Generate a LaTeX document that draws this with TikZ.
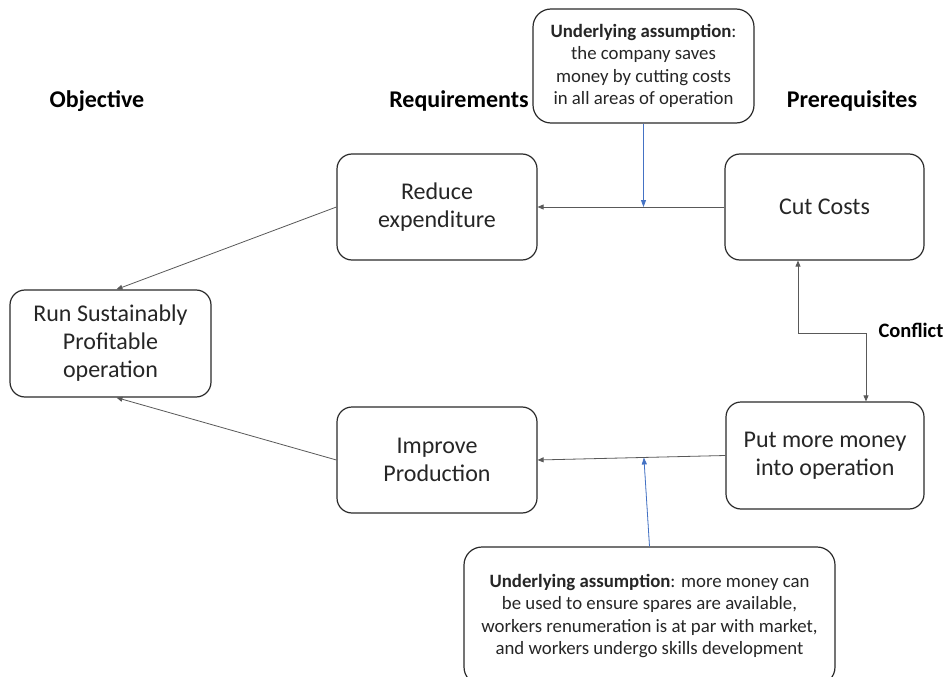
\documentclass[tikz,border=0pt]{standalone}
\usepackage{fontspec}
\setmainfont{Carlito}
\usetikzlibrary{arrows.meta}
\definecolor{linegray}{HTML}{595959}
\definecolor{boxedge}{HTML}{2B2B2B}
\definecolor{inktext}{HTML}{262626}
\definecolor{assumeblue}{HTML}{4472C4}
\tikzset{
  stepbox/.style={draw=boxedge, line width=1.2pt, rounded corners=15pt, align=center,
    inner sep=0pt, text=inktext, font=\fontsize{24}{28}\selectfont},
  notebox/.style={draw=boxedge, line width=1.2pt, rounded corners=18pt, align=center,
    inner sep=0pt, text=inktext, font=\fontsize{18.8}{22.5}\selectfont},
  heading/.style={text=black, font=\bfseries\fontsize{24}{28}\selectfont},
  tip/.style={-{Triangle[length=6pt,width=5pt]}},
  link/.style={draw=linegray, line width=0.8pt, tip},
  bluelink/.style={draw=assumeblue, line width=0.8pt, -{Triangle[length=7pt,width=5pt]}, fill=assumeblue},
}
\begin{document}
\begin{tikzpicture}[x=1pt, y=-1pt]
  \useasboundingbox (0,0) rectangle (946,677);
  \clip (0,0) rectangle (946,677);
  \fill[white] (0,0) rectangle (946,677);

  % column headings
  \node[heading] (hObj) at (97,101) {Objective};
  \node[heading] (hReq) at (459,101) {Requirements};
  \node[heading] (hPre) at (852,101) {Prerequisites};

  % main steps
  \node[stepbox, minimum width=201pt, minimum height=107pt] (run) at (110.5,343.5)
    {Run Sustainably\\Profitable\\operation};
  \node[stepbox, minimum width=200pt, minimum height=106pt] (reduce) at (437,207)
    {Reduce\\expenditure};
  \node[stepbox, minimum width=199pt, minimum height=106pt] (cut) at (824.5,207)
    {Cut Costs};
  \node[stepbox, minimum width=200pt, minimum height=106pt] (improve) at (437,460)
    {Improve\\Production};
  \node[stepbox, minimum width=198pt, minimum height=107pt] (money) at (825,455.5)
    {Put more money\\into operation};

  % assumptions
  \node[notebox, minimum width=221pt, minimum height=114pt] (topA) at (643.5,66)
    {\textbf{Underlying assumption}:\\the company saves\\money by cutting costs\\in all areas of operation};
  \node[notebox, minimum width=371pt, minimum height=138pt] (botA) at (649.5,616)
    {\textbf{Underlying assumption}: more money can\\be used to ensure spares are available,\\workers renumeration is at par with market,\\and workers undergo skills development};

  % connectors
  \draw[link] (reduce.west) -- ([xshift=6pt]run.north);
  \draw[link] (improve.west) -- ([xshift=6pt]run.south);
  \draw[link] (cut.west) -- (reduce.east);
  \draw[link] (money.west) -- coordinate[pos=0.434] (bmid) (improve.east);
  \draw[bluelink] (topA.south) -- (topA.south |- cut.west);
  \draw[bluelink] (botA.north) -- (bmid);

  % conflict link
  \draw[draw=linegray, line width=0.8pt, {Triangle[length=6pt,width=5pt]}-{Triangle[length=6pt,width=5pt]}]
    ([xshift=-26.5pt]cut.south) -- ++(0,73) -| ([xshift=41pt]money.north);
  \node[font=\bfseries\fontsize{20.5}{24}\selectfont, anchor=west] (conflict) at (875,330) {Conflict};
\end{tikzpicture}
\end{document}
